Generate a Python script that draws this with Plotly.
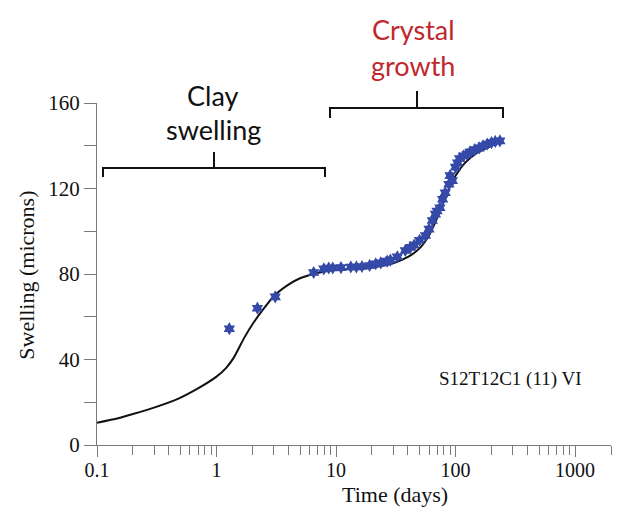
import plotly.graph_objects as go

# ---- data ----
curve_x = [0.1, 0.15, 0.2, 0.3, 0.475, 0.7, 1.0, 1.2, 1.4, 1.7, 2.0, 2.5, 3.0, 4.0, 5.0, 7.0,
           10, 15, 20, 30, 40, 50, 60, 70, 80, 90, 100, 120, 150, 200, 230]
curve_y = [10.4, 12.5, 14.5, 17.5, 21.6, 26.5, 32, 36, 41, 50, 56.5, 64, 69.5, 75, 78, 80.5,
           82, 82.5, 83, 85, 88, 92, 98, 106, 114, 121, 126, 132, 136.5, 140, 141.5]

pts_x = [1.28, 2.2, 3.1, 6.5, 7.9, 8.7, 9.4, 11, 13.3, 14.8, 16.5, 19.1, 21.5, 23.7, 26.8, 28.5,
         32.6, 38, 42, 45, 50, 56, 60, 64, 68, 70, 74, 78, 82, 88, 90, 94, 100, 104, 108, 117,
         125, 132, 145, 158, 170, 184, 200, 215, 235]
pts_y = [54.4, 64, 69.3, 80.7, 82.4, 82.8, 82.8, 83, 83.3, 83.3, 83.5, 84, 84.8, 85.2, 86, 86.5,
         88, 91, 92.5, 93.5, 95.8, 98, 101, 105, 108, 109.5, 111, 115, 118, 122, 126, 123.7, 130, 132,
         134, 135.3, 136, 137, 138.2, 139, 140, 140.8, 141.5, 142, 142.3]

x_ticks = [0.1, 1, 10, 100, 1000]
x_ticktext = ["0.1", "1", "10", "100", "1000"]
y_ticks = [0, 40, 80, 120, 160]

# ---- layout geometry (pixels) ----
W, H = 618, 507
L, R, T, B = 97, 611, 103, 445.5


def px(xp):
    return (xp - L) / (R - L)


def py(yp):
    return (B - yp) / (B - T)


fig = go.Figure()
fig.add_trace(go.Scatter(x=curve_x, y=curve_y, mode="lines",
                         line=dict(color="#111111", width=2, shape="spline", smoothing=0.6),
                         showlegend=False, hoverinfo="skip"))
fig.add_trace(go.Scatter(x=pts_x, y=pts_y, mode="markers",
                         marker=dict(symbol="hexagram", size=10, color="#3549a8",
                                     line=dict(width=0)),
                         showlegend=False))

minor_x = [m * 10 ** e for e in range(-1, 4) for m in range(2, 10)]
minor_x = [v for v in minor_x if v <= 2000]

serif = "Liberation Serif"
axcol = "#7a7a7a"

fig.update_xaxes(type="log", range=[-1, 3.301], showgrid=False, zeroline=False,
                 showline=True, linecolor=axcol, linewidth=1,
                 tickmode="array", tickvals=x_ticks, ticktext=x_ticktext,
                 ticks="outside", ticklen=11, tickcolor=axcol, tickwidth=1,
                 ticklabelstandoff=-4,
                 tickfont=dict(family=serif, size=20, color="#111"),
                 minor=dict(tickmode="array", tickvals=minor_x, ticks="outside",
                            ticklen=9, tickcolor=axcol, tickwidth=1, showgrid=False))
fig.update_yaxes(range=[0, 160], showgrid=False, zeroline=False,
                 showline=True, linecolor=axcol, linewidth=1,
                 tickmode="array", tickvals=y_ticks,
                 ticks="outside", ticklen=12, tickcolor=axcol, tickwidth=1,
                 tickfont=dict(family=serif, size=21, color="#111"),
                 minor=dict(dtick=20, ticks="outside", ticklen=12, tickcolor=axcol,
                            tickwidth=1, showgrid=False))

# brackets
def bracket(x0, x1, xc, yline, yend, ytop):
    return (f"M {px(x0)},{py(yend)} L {px(x0)},{py(yline)} L {px(x1)},{py(yline)} "
            f"L {px(x1)},{py(yend)} M {px(xc)},{py(yline)} L {px(xc)},{py(ytop)}")

fig.add_shape(type="path", xref="paper", yref="paper",
              path=bracket(103, 325, 214, 168, 177, 152),
              line=dict(color="#111", width=2))
fig.add_shape(type="path", xref="paper", yref="paper",
              path=bracket(330, 503, 417, 108, 118, 91),
              line=dict(color="#111", width=2))

sans = "Lato"
ann = [
    ("Clay", 213, 95, "#111"),
    ("swelling", 213, 130, "#111"),
    ("Crystal", 413, 29, "#c0282d"),
    ("growth", 413, 65, "#c0282d"),
]
for txt, xp, yp, col in ann:
    fig.add_annotation(text=txt, xref="paper", yref="paper", x=px(xp), y=py(yp),
                       xanchor="center", yanchor="middle", showarrow=False,
                       font=dict(family=sans, size=27, color=col))

fig.add_annotation(text="S12T12C1 (11) VI", xref="paper", yref="paper",
                   x=px(510), y=py(379), xanchor="center", yanchor="middle", showarrow=False,
                   font=dict(family=serif, size=19, color="#111"))
fig.add_annotation(text="Time (days)", xref="paper", yref="paper",
                   x=px(395), y=py(495), xanchor="center", yanchor="middle", showarrow=False,
                   font=dict(family=serif, size=22, color="#111"))
fig.add_annotation(text="Swelling (microns)", xref="paper", yref="paper",
                   x=px(27), y=py(276), xanchor="center", yanchor="middle", showarrow=False,
                   textangle=-90, font=dict(family=serif, size=22, color="#111"))

fig.update_layout(width=W, height=H, autosize=False,
                  margin=dict(l=L, r=W - R, t=T, b=H - B),
                  paper_bgcolor="white", plot_bgcolor="white")

fig.write_html("out.html")
